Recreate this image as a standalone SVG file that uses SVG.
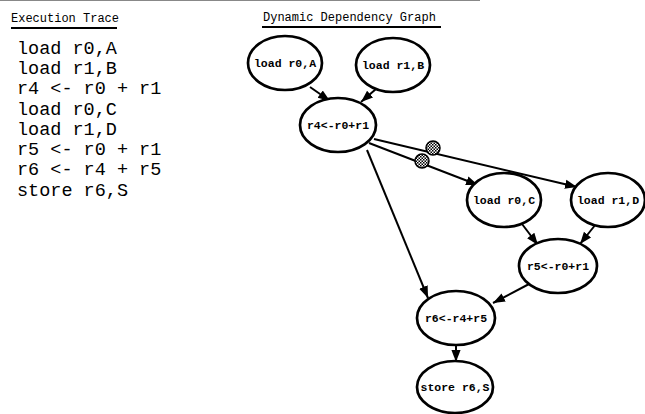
<svg xmlns="http://www.w3.org/2000/svg" width="645" height="414" viewBox="0 0 645 414">
<defs>
<style>
.hdr{font-family:"Liberation Mono","Courier New",monospace;font-size:12px;fill:#000}
.trace{font-family:"Liberation Mono","Courier New",monospace;font-size:18.5px;fill:#000}
.lbl{font-family:"Liberation Mono","Courier New",monospace;font-size:11.5px;font-weight:bold;fill:#000;text-anchor:middle;dominant-baseline:central}
.node ellipse{fill:#fff;stroke:#000;stroke-width:2.7}
.edge{stroke:#000;stroke-width:2;fill:none;marker-end:url(#ah)}
.ul{stroke:#000;stroke-width:2}
.tok{fill:url(#chk);stroke:#000;stroke-width:1.5}
</style>
<marker id="ah" viewBox="0 0 10 10" refX="10" refY="5" markerWidth="6" markerHeight="6" markerUnits="strokeWidth" orient="auto">
<path d="M0,1.2 L10,5 L0,8.8 z" fill="#000"/>
</marker>
<pattern id="chk" width="3" height="3" patternUnits="userSpaceOnUse">
<rect width="3" height="3" fill="#fff"/>
<rect width="1.5" height="1.5" fill="#000"/>
<rect x="1.5" y="1.5" width="1.5" height="1.5" fill="#000"/>
</pattern>
</defs>
<rect width="645" height="414" fill="#fff"/>
<line x1="0" y1="0.5" x2="480" y2="0.5" stroke="#888" stroke-width="1"/>
<g id="headers">
<text class="hdr" x="11" y="22">Execution Trace</text>
<line class="ul" x1="11" y1="28" x2="117" y2="28"/>
<text class="hdr" x="263" y="21">Dynamic Dependency Graph</text>
<line class="ul" x1="262" y1="27" x2="441" y2="27"/>
</g>
<g id="trace">
<text class="trace" x="17" y="54">load r0,A</text>
<text class="trace" x="17" y="74">load r1,B</text>
<text class="trace" x="17" y="94">r4 &lt;- r0 + r1</text>
<text class="trace" x="17" y="115">load r0,C</text>
<text class="trace" x="17" y="135">load r1,D</text>
<text class="trace" x="17" y="155">r5 &lt;- r0 + r1</text>
<text class="trace" x="17" y="175">r6 &lt;- r4 + r5</text>
<text class="trace" x="17" y="196">store r6,S</text>
</g>
<g id="connectors">
<line class="edge" x1="310" y1="87" x2="330" y2="101"/>
<line class="edge" x1="376" y1="89" x2="361" y2="102"/>
<line class="edge" x1="369" y1="143" x2="478" y2="185"/>
<line class="edge" x1="374" y1="139" x2="577" y2="187"/>
<line class="edge" x1="367" y1="150" x2="428" y2="298"/>
<line class="edge" x1="522" y1="224" x2="538" y2="245"/>
<line class="edge" x1="596" y1="224" x2="580" y2="244"/>
<line class="edge" x1="531" y1="283" x2="493" y2="303"/>
<line class="edge" x1="456" y1="345" x2="456" y2="362"/>
<circle class="tok" cx="433" cy="148" r="7"/>
<circle class="tok" cx="422" cy="161" r="7"/>
</g>
<g id="n_loadA" class="node"><ellipse cx="285" cy="63" rx="37" ry="27"/><text class="lbl" x="285" y="63">load r0,A</text></g>
<g id="n_loadB" class="node"><ellipse cx="393" cy="65" rx="37" ry="27"/><text class="lbl" x="393" y="65">load r1,B</text></g>
<g id="n_r4" class="node"><ellipse cx="338" cy="125" rx="38" ry="27"/><text class="lbl" x="338" y="125">r4&lt;-r0+r1</text></g>
<g id="n_loadC" class="node"><ellipse cx="504" cy="200" rx="37" ry="27"/><text class="lbl" x="504" y="200">load r0,C</text></g>
<g id="n_loadD" class="node"><ellipse cx="608" cy="200" rx="37" ry="27"/><text class="lbl" x="608" y="200">load r1,D</text></g>
<g id="n_r5" class="node"><ellipse cx="558" cy="266" rx="39" ry="27"/><text class="lbl" x="558" y="266">r5&lt;-r0+r1</text></g>
<g id="n_r6" class="node"><ellipse cx="456" cy="318" rx="39" ry="27"/><text class="lbl" x="456" y="318">r6&lt;-r4+r5</text></g>
<g id="n_store" class="node"><ellipse cx="455" cy="387" rx="38" ry="26"/><text class="lbl" x="455" y="387">store r6,S</text></g>
</svg>
